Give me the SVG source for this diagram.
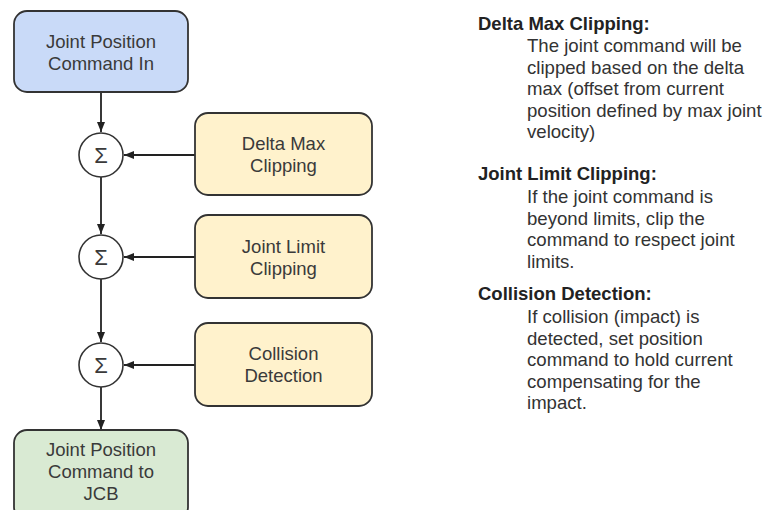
<svg xmlns="http://www.w3.org/2000/svg" width="767" height="510" viewBox="0 0 767 510">
<defs>
<style>
.box{stroke:#333;stroke-width:1.8}
.blue{fill:#c9daf8}
.orange{fill:#fff2cc}
.green{fill:#d9ead3}
.sum{fill:#fff;stroke:#333;stroke-width:1.6}
.lbl{font-family:"Liberation Sans",Arial,sans-serif;font-size:18.5px;fill:#3a3a3a;text-anchor:middle}
.sig{font-family:"Liberation Sans",Arial,sans-serif;font-size:22px;fill:#3a3a3a;text-anchor:middle}
.hd{font-family:"Liberation Sans",Arial,sans-serif;font-size:18.5px;font-weight:bold;fill:#222}
.bd{font-family:"Liberation Sans",Arial,sans-serif;font-size:18.6px;fill:#333}
.conn{stroke:#222;stroke-width:1.8;fill:none}
</style>
<marker id="arr" markerUnits="userSpaceOnUse" markerWidth="10" markerHeight="10" viewBox="0 0 10 10" refX="10" refY="5" orient="auto">
<path d="M0,1 L10,5 L0,9 Z" fill="#222"/>
</marker>
</defs>
<rect width="767" height="510" fill="#fff"/>
<g id="connectors">
<line class="conn" x1="101" y1="92" x2="101" y2="132" marker-end="url(#arr)"/>
<line class="conn" x1="101" y1="177" x2="101" y2="234" marker-end="url(#arr)"/>
<line class="conn" x1="101" y1="279" x2="101" y2="342" marker-end="url(#arr)"/>
<line class="conn" x1="101" y1="387" x2="101" y2="430" marker-end="url(#arr)"/>
<line class="conn" x1="195" y1="155" x2="124" y2="155" marker-end="url(#arr)"/>
<line class="conn" x1="195" y1="257" x2="124" y2="257" marker-end="url(#arr)"/>
<line class="conn" x1="195" y1="365" x2="124" y2="365" marker-end="url(#arr)"/>
</g>
<g id="input">
<rect class="box blue" x="14" y="11" width="174" height="81" rx="13"/>
<text class="lbl" x="101" y="48">Joint Position</text>
<text class="lbl" x="101" y="70">Command In</text>
</g>
<g id="sum1"><circle class="sum" cx="101" cy="155" r="22"/><text class="sig" x="101" y="163">Σ</text></g>
<g id="sum2"><circle class="sum" cx="101" cy="257" r="22"/><text class="sig" x="101" y="265">Σ</text></g>
<g id="sum3"><circle class="sum" cx="101" cy="365" r="22"/><text class="sig" x="101" y="373">Σ</text></g>
<g id="delta">
<rect class="box orange" x="195" y="113" width="177" height="82" rx="13"/>
<text class="lbl" x="283.5" y="150">Delta Max</text>
<text class="lbl" x="283.5" y="172">Clipping</text>
</g>
<g id="limit">
<rect class="box orange" x="195" y="215" width="177" height="83" rx="13"/>
<text class="lbl" x="283.5" y="253">Joint Limit</text>
<text class="lbl" x="283.5" y="275">Clipping</text>
</g>
<g id="collision">
<rect class="box orange" x="195" y="323" width="177" height="83" rx="13"/>
<text class="lbl" x="283.5" y="360">Collision</text>
<text class="lbl" x="283.5" y="382">Detection</text>
</g>
<g id="output">
<rect class="box green" x="14" y="430" width="174" height="90" rx="13"/>
<text class="lbl" x="101" y="456">Joint Position</text>
<text class="lbl" x="101" y="478">Command to</text>
<text class="lbl" x="101" y="500">JCB</text>
</g>
<g id="notes">
<text class="hd" x="478" y="30">Delta Max Clipping:</text>
<text class="bd" x="527" y="52">The joint command will be</text>
<text class="bd" x="527" y="73.5">clipped based on the delta</text>
<text class="bd" x="527" y="95">max (offset from current</text>
<text class="bd" x="527" y="116.5">position defined by max joint</text>
<text class="bd" x="527" y="138">velocity)</text>
<text class="hd" x="478" y="180">Joint Limit Clipping:</text>
<text class="bd" x="527" y="203">If the joint command is</text>
<text class="bd" x="527" y="224.5">beyond limits, clip the</text>
<text class="bd" x="527" y="246">command to respect joint</text>
<text class="bd" x="527" y="267.5">limits.</text>
<text class="hd" x="478" y="300">Collision Detection:</text>
<text class="bd" x="527" y="323">If collision (impact) is</text>
<text class="bd" x="527" y="344.5">detected, set position</text>
<text class="bd" x="527" y="366">command to hold current</text>
<text class="bd" x="527" y="387.5">compensating for the</text>
<text class="bd" x="527" y="409">impact.</text>
</g>
</svg>
